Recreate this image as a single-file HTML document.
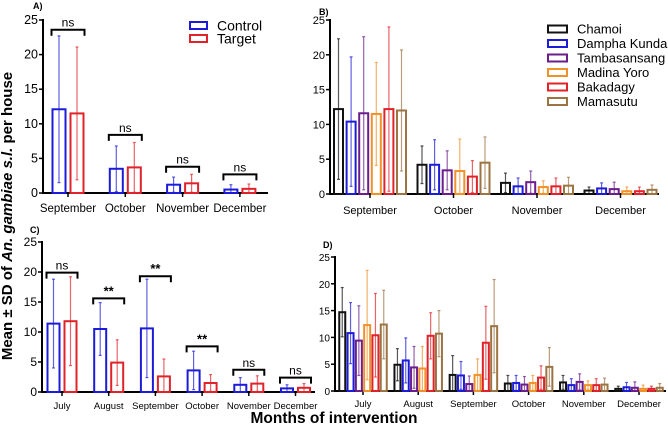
<!DOCTYPE html>
<html><head><meta charset="utf-8"><style>
body{margin:0;background:#fff}
svg{display:block;font-family:"Liberation Sans",Arial,sans-serif}
</style></head><body>
<svg id="chart" width="668" height="430" viewBox="0 0 668 430">
<text x="12" y="216" transform="rotate(-90 12 216)" text-anchor="middle" font-size="15" font-weight="bold">Mean ± SD of <tspan font-style="italic">An. gambiae s.l.</tspan> per house</text>
<text x="334" y="423" text-anchor="middle" font-size="15.5" font-weight="bold">Months of intervention</text>
</svg>
<script>
const monthsAB=["September","October","November","December"];
const monthsCD=["July","August","September","October","November","December"];
const twoGroups=["Control","Target"];
const villages=["Chamoi","Dampha Kunda","Tambasansang","Madina Yoro","Bakadagy","Mamasutu"];
const yTicks=[0,5,10,15,20,25];
// Panel A
const aControlMean=[12.1,3.5,1.2,0.5];
const aControlSD=[10.6,3.3,1.1,0.7];
const aTargetMean=[11.5,3.7,1.4,0.6];
const aTargetSD=[9.6,3.6,1.3,0.7];
const aSig=["ns","ns","ns","ns"];
const aBracket=[23.6,8.4,3.8,2.7];
// Panel B
const bMean=[[12.2,4.2,1.6,0.5],[10.4,4.2,1.1,0.8],[11.6,3.4,1.7,0.7],[11.5,3.3,1.0,0.4],[12.2,2.5,1.1,0.4],[12.0,4.5,1.2,0.6]];
const bUpper=[[22.3,6.9,3.0,1.0],[19.7,7.8,2.3,1.6],[22.6,6.2,3.3,1.7],[18.9,7.9,1.9,1.0],[24.0,4.8,2.3,1.0],[20.7,8.2,2.4,1.3]];
// Panel C
const cControlMean=[11.4,10.5,10.6,3.6,1.2,0.6];
const cControlSD=[7.4,4.4,8.2,3.2,1.2,0.6];
const cTargetMean=[11.8,4.9,2.6,1.5,1.4,0.7];
const cTargetSD=[7.4,3.8,2.9,1.4,1.3,0.7];
const cSig=["ns","**","**","**","ns","ns"];
const cBracket=[19.9,15.6,19.3,7.6,3.7,2.4];
// Panel D
const dMean=[[14.7,4.9,3.0,1.4,1.6,0.4],[10.8,5.7,2.9,1.5,1.1,0.7],[9.4,4.4,1.3,1.2,1.7,0.6],[12.3,4.2,3.0,1.5,1.1,0.4],[10.4,10.3,9.0,2.5,1.1,0.4],[12.4,10.7,12.1,4.5,1.2,0.6]];
const dUpper=[[19.3,7.9,6.6,2.9,2.9,0.9],[16.5,9.9,5.5,2.9,2.3,1.6],[15.9,8.3,2.8,2.7,3.2,1.7],[22.5,8.3,6.0,2.9,1.9,1.1],[18.2,14.6,15.8,4.7,2.3,0.9],[18.8,15.0,20.8,8.1,2.4,1.4]];

const twoColors=["#1c1cd8","#e0232a"];
const vColors=["#111111","#1c1cd8","#6b1d8c","#f0922a","#e0232a","#9c7444"];
const svg=document.getElementById('chart');
const NS="http://www.w3.org/2000/svg";
function mk(tag,attrs,parent){const e=document.createElementNS(NS,tag);for(const k in attrs)e.setAttribute(k,attrs[k]);(parent||svg).appendChild(e);return e;}

function panel(p){
  const g=mk('g',{});
  
  
  const y=v=>p.y0-(p.y0-p.y25)*v/25;
  const x=i=>p.xc0+i*p.step;
  const lab=mk('text',{x:p.labX,y:p.labY,'font-size':9,'font-weight':'bold'},g);lab.textContent=p.letter;
  
  
  mk('line',{x1:p.ax,y1:p.y25-1,x2:p.ax,y2:p.y0+1,stroke:'#000','stroke-width':2},g);
  mk('line',{x1:p.ax-1,y1:p.y0,x2:p.xEnd,y2:p.y0,stroke:'#000','stroke-width':2},g);
  yTicks.forEach(t=>{
    mk('line',{x1:p.ax-4,y1:y(t),x2:p.ax,y2:y(t),stroke:'#000','stroke-width':1.5},g);
    const tx=mk('text',{x:p.ax-5,y:y(t)+4,'text-anchor':'end','font-size':p.tickFs},g);tx.textContent=t;
    
    
  });
  p.cats.forEach((c,i)=>{
    mk('line',{x1:x(i),y1:p.y0,x2:x(i),y2:p.y0+4,stroke:'#000','stroke-width':1.5},g);
    const tx=mk('text',{x:x(i),y:p.catY,'text-anchor':'middle','font-size':p.catFs},g);tx.textContent=c;
    
    
  });
  const n=p.series.length;
  p.series.forEach((s,si)=>{
    s.mean.forEach((m,i)=>{
      const cx=x(i)+(si-(n-1)/2)*p.bstep;
      const lo=Math.max(0,s.lo[i]),hi=s.hi[i];
      const eb=mk('line',{x1:cx,y1:y(lo),x2:cx,y2:y(hi),stroke:p.colors[si],'stroke-width':1.2,'stroke-opacity':0.7},g);
      
      
      mk('line',{x1:cx-1.5,y1:y(hi),x2:cx+1.5,y2:y(hi),stroke:p.colors[si],'stroke-width':1.2,'stroke-opacity':0.7},g);
      mk('line',{x1:cx-1.5,y1:y(lo),x2:cx+1.5,y2:y(lo),stroke:p.colors[si],'stroke-width':1.2,'stroke-opacity':0.7},g);
      const r=mk('rect',{x:cx-p.bw/2,y:y(m),width:p.bw,height:Math.max(0,p.y0-y(m)),fill:'none',stroke:p.colors[si],'stroke-width':2},g);
      
      
    });
  });
  if(p.sig){
    p.sig.forEach((s,i)=>{
      const by=y(p.bracket[i]);const x1=x(i)-p.bstep/2-p.bw/2-1,x2=x(i)+p.bstep/2+p.bw/2+1;
      const br=mk('path',{d:`M${x1} ${by+6}V${by}H${x2}V${by+6}`,fill:'none',stroke:'#000','stroke-width':2},g);
      
      
      const t=mk('text',{x:(x1+x2)/2,y:by-3,'text-anchor':'middle','font-size':s=='ns'?12:13,'font-weight':s=='ns'?'normal':'bold'},g);t.textContent=s;
      
      
    });
  }
  if(p.legend){
    p.legend.forEach((name,i)=>{
      const ly=p.legY+i*p.legStep;
      const r=mk('rect',{x:p.legX,y:ly-p.legH/2,width:p.legW,height:p.legH,fill:'none',stroke:p.colors[i],'stroke-width':2},g);
      
      
      const t=mk('text',{x:p.legX+p.legW+10,y:ly+p.legFs*0.36,'font-size':p.legFs},g);t.textContent=name;
      
      
    });
  }
}
function twoSeries(m1,s1,m2,s2){return [{mean:m1,lo:m1.map((v,i)=>v-s1[i]),hi:m1.map((v,i)=>v+s1[i])},{mean:m2,lo:m2.map((v,i)=>v-s2[i]),hi:m2.map((v,i)=>v+s2[i])}];}
function multiSeries(M,U){return M.map((m,k)=>({mean:m,hi:U[k],lo:m.map((v,i)=>2*v-U[k][i])}));}

panel({name:'panel-a',letter:'A)',labX:33,labY:9,ax:43,y0:193,y25:20,xEnd:268,xc0:68,step:57.3,cats:monthsAB,catY:212,catFs:11.5,tickFs:12.5,
  series:twoSeries(aControlMean,aControlSD,aTargetMean,aTargetSD),colors:twoColors,bw:13,bstep:18,sig:aSig,bracket:aBracket,
  legend:twoGroups,legX:190,legY:25.5,legStep:13,legW:17,legH:7,legFs:14});
panel({name:'panel-b',letter:'B)',labX:319,labY:15,ax:330,y0:194,y25:20,xEnd:659,xc0:370,step:83.5,cats:monthsAB,catY:214,catFs:11,tickFs:11,
  series:multiSeries(bMean,bUpper),colors:vColors,bw:9,bstep:12.6,
  legend:villages,legX:548,legY:29,legStep:14.5,legW:19,legH:7,legFs:13});
panel({name:'panel-c',letter:'C)',labX:30,labY:233,ax:42,y0:392,y25:242,xEnd:315,xc0:62,step:46.7,cats:monthsCD,catY:409,catFs:9.5,tickFs:12,
  series:twoSeries(cControlMean,cControlSD,cTargetMean,cTargetSD),colors:twoColors,bw:12,bstep:17,sig:cSig,bracket:cBracket});
panel({name:'panel-d',letter:'D)',labX:323,labY:248,ax:335,y0:391,y25:257,xEnd:666,xc0:363,step:55.2,cats:monthsCD,catY:407,catFs:9.5,tickFs:10,
  series:multiSeries(dMean,dUpper),colors:vColors,bw:6,bstep:8.3});
</script>
</body></html>
